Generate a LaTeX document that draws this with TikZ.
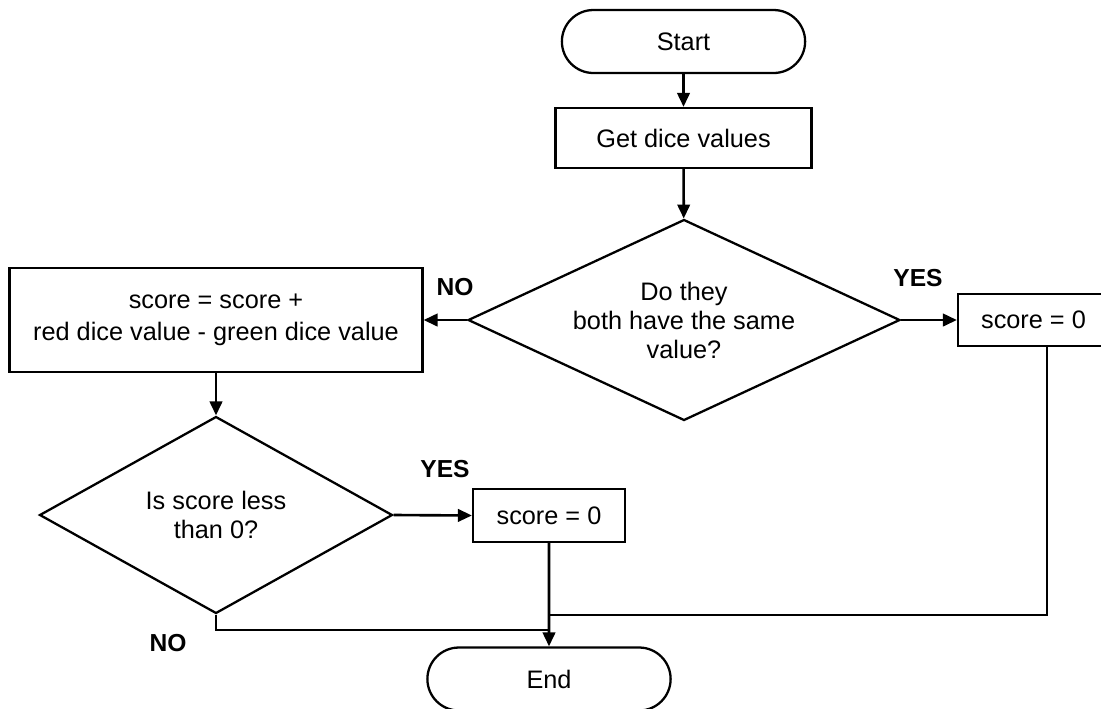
\documentclass[tikz,border=0pt]{standalone}
\usepackage{fontspec}
\setmainfont{Liberation Sans}
\usepackage{tikz}
\usetikzlibrary{arrows.meta}
\usetikzlibrary{shapes.misc}
\usetikzlibrary{positioning}
\usepgflibrary{shapes.geometric}

\begin{document}
\begin{tikzpicture}[
      x=0.02cm, y=-0.02cm,
      font=\fontsize{14.4}{16.5}\selectfont,
      terminal/.style={rounded rectangle, draw, line width=1.3pt, minimum width=5.1cm, minimum height=1.26cm},
      block/.style ={rectangle, draw, line width=1.3pt, align=center, inner sep=0pt},
      decision/.style={diamond, draw, line width=1.3pt, align=center, inner sep=0pt},
      answer/.style={font=\fontsize{14}{16}\selectfont\bfseries},
      flow/.style={-{Triangle[length=0.28cm, width=0.25cm]}, line width=1.5pt},
      link/.style={line width=1.3pt}
    ]
    \useasboundingbox (0,0) rectangle (1101,708);
    \node [terminal] (start) at (683.5,41.5) {Start} ;
    \node [block, minimum width=5.12cm, minimum height=1.2cm] (dice) at (683.5,138) {Get dice values} ;
    \node [decision, aspect=2.15, minimum width=8.64cm, minimum height=4.02cm] (same) at (684,320) {Do they\\both have the same\\value?} ;
    \node [block, minimum width=8.26cm, minimum height=2.08cm, font=\fontsize{14.4}{18}\selectfont] (adjust) at (216,320) {score = score +\\red dice value - green dice value} ;
    \node [block, minimum width=3.02cm, minimum height=1.04cm] (zeroa) at (1033.5,320) {score = 0} ;
    \node [decision, aspect=1.79, minimum width=7.06cm, minimum height=3.94cm] (less) at (216,515) {Is score less\\than 0?} ;
    \node [block, minimum width=3.04cm, minimum height=1.06cm] (zerob) at (549,515.5) {score = 0} ;
    \node [terminal] (finish) at (549,679) {End} ;

    \node [answer] (nosame) at (455,287) {NO} ;
    \node [answer] (yessame) at (918,278) {YES} ;
    \node [answer] (yesless) at (445,469) {YES} ;
    \node [answer] (noless) at (168,643) {NO} ;

    \coordinate (yesjoin) at (549,615) ;
    \coordinate (nojoin) at (549,630) ;

    \draw [flow] (start) -- (dice) ;
    \draw [flow] (dice) -- (same) ;
    \draw [flow] (same.west) -- (adjust.east) ;
    \draw [flow] (same.east) -- (zeroa.west) ;
    \draw [flow] (adjust.south) -- (less.north) ;
    \draw [flow] (less.east) -- (zerob.west) ;
    \draw [flow] (zerob) -- (finish) ;
    \draw [link] ([xshift=0.27cm]zeroa.south) |- (yesjoin) ;
    \draw [link] (less.south) |- (nojoin) ;
  \end{tikzpicture}
\end{document}
